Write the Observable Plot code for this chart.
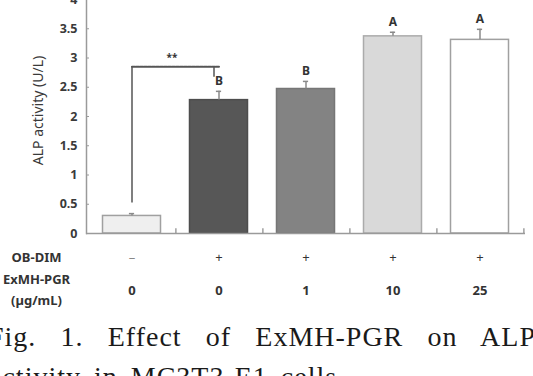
<!DOCTYPE html>
<html>
<head>
<meta charset="utf-8">
<script src="https://cdn.jsdelivr.net/npm/d3@7"></script>
<script src="https://cdn.jsdelivr.net/npm/@observablehq/plot@0.6"></script>
<style>
  html, body { margin: 0; padding: 0; background: #fff; }
  body { width: 533px; height: 376px; overflow: hidden; position: relative; font-family: "Noto Sans", "Open Sans", sans-serif; }
  #chart { position: absolute; left: 0; top: -1px; }
  .cap { position: absolute; font-family: "Liberation Serif", "DejaVu Serif", serif; font-size: 28px; line-height: 28px; color: #1a1a1a; letter-spacing: 1px; white-space: nowrap; }
  #cap1 { top: 323px; left: -12px; width: 548px; text-align: justify; text-align-last: justify; white-space: normal; }
  #cap2 { top: 363px; left: -11px; word-spacing: 5px; }
</style>
</head>
<body>
<div id="chart"></div>
<div class="cap" id="cap1">Fig. 1. Effect of ExMH-PGR on ALP</div>
<div class="cap" id="cap2">activity in MC3T3-E1 cells</div>
<script>
// ---- data ----
const groups  = ["G1", "G2", "G3", "G4", "G5"];
const obDim   = ["–", "+", "+", "+", "+"];
const dose    = ["0", "0", "1", "10", "25"];
const alp     = [0.30, 2.28, 2.47, 3.37, 3.31];
const sem     = [0.04, 0.15, 0.13, 0.07, 0.18];
const letters = ["", "B", "B", "A", "A"];
const yTicks  = [0, 0.5, 1, 1.5, 2, 2.5, 3, 3.5, 4];
const rowTitles = ["OB-DIM", "ExMH-PGR", "(µg/mL)"];
const yLabel = "ALP activity (U/L)";
const sigLabel = "**";
const sigStart = 0.52, sigTop = 2.85, sigEnd = 2.67;

// ---- styles ----
const fills   = ["#efefef", "#575757", "#838383", "#d9d9d9", "#ffffff"];
const strokes = ["#a0a0a0", "#4d4d4d", "#767676", "#ababab", "#a0a0a0"];

const W = 533, H = 312, ML = 86, MR = 8, MB = 78;
const step = (W - ML - MR) / groups.length;

const data = groups.map((g, i) => ({
  g, v: alp[i], e: sem[i], letter: letters[i], fill: fills[i], stroke: strokes[i], ob: obDim[i], dose: dose[i]
}));

const bracketH = [{g: groups[0], y: sigTop}, {g: groups[1], y: sigTop}];

const txt = "#333";

const chart = Plot.plot({
  width: W, height: H,
  marginTop: 0, marginLeft: ML, marginRight: MR, marginBottom: MB,
  style: {fontFamily: "'Noto Sans', 'Open Sans', sans-serif", color: txt, background: "transparent", overflow: "visible"},
  x: {type: "band", domain: groups, padding: 0, axis: null},
  y: {domain: [0, 4], axis: null},
  color: {type: "identity"},
  marks: [
    // bars
    Plot.barY(data, {x: "g", y: "v", fill: "fill", stroke: "stroke", strokeWidth: 1.5, insetLeft: 14.5, insetRight: 14.5}),
    // error bars
    Plot.ruleX(data, {x: "g", y1: "v", y2: d => d.v + d.e, stroke: "#8a8a8a", strokeWidth: 1.5}),
    Plot.tickY(data, {x: "g", y: d => d.v + d.e, stroke: "#8a8a8a", strokeWidth: 1.5, insetLeft: step / 2 - 3, insetRight: step / 2 - 3}),
    // significance letters
    Plot.text(data, {x: "g", y: d => d.v + d.e, text: "letter", dy: -10, fontSize: 12, fontWeight: "bold", fill: txt}),
    // bracket
    Plot.ruleX([groups[0]], {x: d => d, y1: sigStart, y2: sigTop, stroke: "#555", strokeWidth: 1.5}),
    Plot.ruleX([groups[1]], {x: d => d, y1: sigEnd, y2: sigTop, stroke: "#555", strokeWidth: 1.5, dx: -5}),
    Plot.line(bracketH, {x: "g", y: "y", stroke: "#555", strokeWidth: 2, strokeDasharray: "3,1"}),
    Plot.text([sigLabel], {x: () => groups[0], y: () => sigTop, text: d => d, dx: step / 2 - 4, dy: -9, fontSize: 10, fontWeight: "bold", fill: txt}),
    // axes lines
    Plot.ruleY([0], {stroke: "#9a9a9a", strokeWidth: 1.5}),
    Plot.frame({anchor: "left", stroke: "#9a9a9a", strokeWidth: 1.5}),
    Plot.ruleX(groups, {x: d => d, y1: 0, y2: 0.08, dx: step / 2, stroke: "#888", strokeWidth: 1.2}),
    Plot.axisY(yTicks, {tickSize: 3, dx: 3, tickFormat: () => "", stroke: "#9a9a9a", label: null}),
    Plot.axisY(yTicks, {tickSize: 0, tickPadding: 9, fontSize: 12.5, fontWeight: "bold", tickFormat: d => String(d), label: null, fill: "#3a3a3a"}),
    Plot.text([yLabel], {frameAnchor: "left", text: d => d, rotate: -90, textAnchor: "middle", lineAnchor: "middle", dx: -48, dy: -6, fontSize: 14, fill: "#3a3a3a"}),
    // bottom table
    Plot.text(data, {x: "g", text: "ob", frameAnchor: "bottom", lineAnchor: "middle", dy: 24, fontSize: 13, fontWeight: d => d.ob === "+" ? "bold" : "normal", fill: d => d.ob === "+" ? "#333" : "#888"}),
    Plot.text(data, {x: "g", text: "dose", frameAnchor: "bottom", lineAnchor: "middle", dy: 57, fontSize: 13, fontWeight: "bold", fill: txt}),
    Plot.text([rowTitles[0]], {frameAnchor: "bottom-left", lineAnchor: "middle", text: d => d, dx: -50, dy: 24, textAnchor: "middle", fontSize: 13, fontWeight: "bold", fill: txt}),
    Plot.text([rowTitles[1]], {frameAnchor: "bottom-left", lineAnchor: "middle", text: d => d, dx: -50, dy: 46, textAnchor: "middle", fontSize: 13, fontWeight: "bold", fill: txt}),
    Plot.text([rowTitles[2]], {frameAnchor: "bottom-left", lineAnchor: "middle", text: d => d, dx: -50, dy: 67, textAnchor: "middle", fontSize: 13, fontWeight: "bold", fill: txt})
  ]
});
document.getElementById("chart").appendChild(chart);
</script>
</body>
</html>
